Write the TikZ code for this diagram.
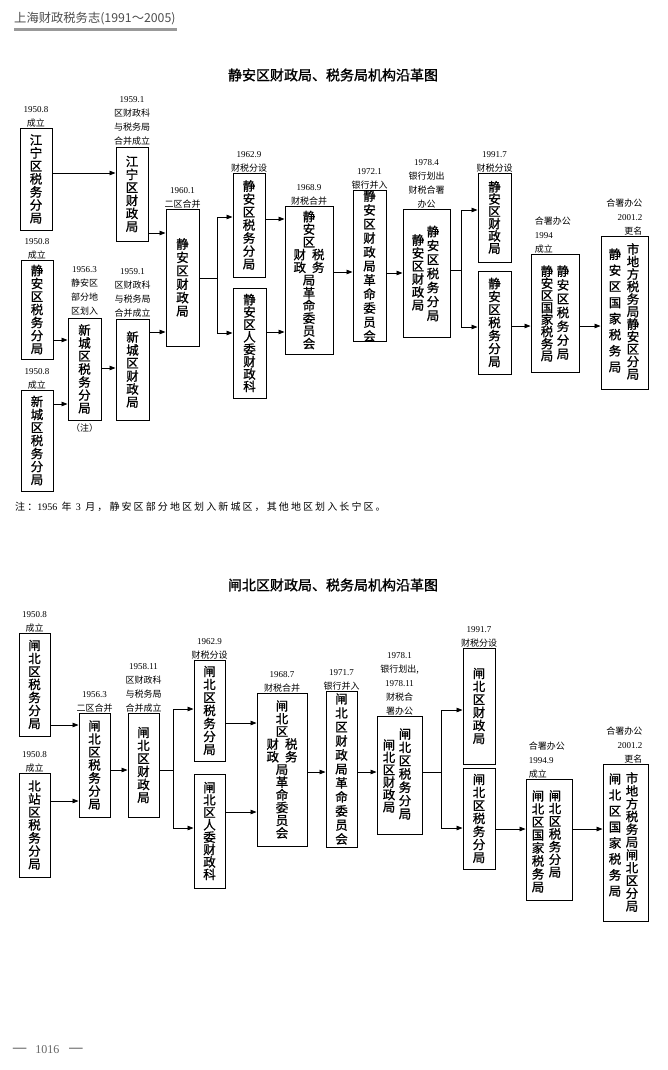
\documentclass[tikz,border=0pt]{standalone}
\usepackage{fontspec}
\setmainfont{Noto Sans CJK SC}
\newfontfamily\numfont{Liberation Serif}
\newfontfamily\boxfont[FakeBold=0.9]{Noto Sans CJK SC}
\newfontfamily\ttlfont[FakeBold=1.3]{Noto Sans CJK SC}
\newfontfamily\notefont[LetterSpace=21]{Noto Sans CJK SC}
\usetikzlibrary{arrows.meta,positioning}
\newcommand{\yr}[1]{{\numfont #1}}
\def\vtend{}
\def\vtx#1{\ifx\vtend#1\else\hbox to 14pt{\hss#1\hss}\expandafter\vtx\fi}
\newcommand{\vt}[2][13pt]{\vbox{\baselineskip=#1\lineskiplimit=-50pt\lineskip=0pt\vtx#2\vtend}}

\begin{document}
\begin{tikzpicture}[x=1pt,y=-1pt,
unit/.style={draw,line width=0.9pt,inner sep=0pt,font=\boxfont\fontsize{12.5}{13}\selectfont},
txt/.style={inner sep=0pt,font=\boxfont\fontsize{12.5}{13}\selectfont},
lbl/.style={inner sep=0pt,align=center,font=\fontsize{9}{14}\selectfont},
ttl/.style={font=\ttlfont\fontsize{14}{16}\selectfont},
line/.style={line width=0.8pt},
arr/.style={line width=0.8pt,-{Triangle[length=6pt,width=4.5pt]}}]
\useasboundingbox (0,0) rectangle (668,1070);
% header and footer
\node[anchor=west,inner sep=0pt,text=black!70,font=\fontsize{12.3}{13}\selectfont] (hd) at (14,19) {上海财政税务志(1991～2005)};
\draw[black!40,line width=3pt] (14,29.5) -- (177,29.5);
\node[anchor=west,inner sep=0pt,text=black!60,font=\fontsize{12}{13}\selectfont] (pg) at (12,1050) {{\fontsize{17}{17}\selectfont —}\hspace{8pt}\yr{1016}\hspace{9pt}{\fontsize{17}{17}\selectfont —}};

%%% Jing'an
\node[ttl] (ttl1) at (333,75) {静安区财政局、税务局机构沿革图};
\node[unit,minimum width=32,minimum height=102] (t1) at (36,179) {\vt{江宁区税务分局}};
\node[lbl,above=0pt of t1] (l1) {\yr{1950.8}\\成立};
\node[unit,minimum width=32,minimum height=99] (t2) at (37,309.5) {\vt{静安区税务分局}};
\node[lbl,above=0pt of t2] (l2) {\yr{1950.8}\\成立};
\node[unit,minimum width=32,minimum height=101] (t3) at (37,440.5) {\vt{新城区税务分局}};
\node[lbl,above=0pt of t3] (l3) {\yr{1950.8}\\成立};
\node[unit,minimum width=33,minimum height=102] (t4) at (84.5,369) {\vt{新城区税务分局}};
\node[lbl,above=2pt of t4] (l4) {\yr{1956.3}\\静安区\\部分地\\区划入};
\node[lbl,below=3pt of t4] (n4) {（注）};
\node[unit,minimum width=32,minimum height=94] (t5) at (132,194) {\vt{江宁区财政局}};
\node[lbl,above=1pt of t5] (l5) {\yr{1959.1}\\区财政科\\与税务局\\合并成立};
\node[unit,minimum width=33,minimum height=101] (t6) at (132.5,369.5) {\vt{新城区财政局}};
\node[lbl,above=1pt of t6] (l6) {\yr{1959.1}\\区财政科\\与税务局\\合并成立};
\node[unit,minimum width=33,minimum height=137] (t7) at (182.5,277.5) {\vt[13.4pt]{静安区财政局}};
\node[lbl,above=0pt of t7] (l7) {\yr{1960.1}\\二区合并};
\node[unit,minimum width=32,minimum height=104] (t8) at (249,225) {\vt{静安区税务分局}};
\node[lbl,above=0pt of t8] (l8) {\yr{1962.9}\\财税分设};
\node[unit,minimum width=33,minimum height=110] (t9) at (249.5,343) {\vt[12.4pt]{静安区人委财政科}};
\node[unit,minimum width=48,minimum height=148] (t10) at (309,280) {\vt[12.7pt]{静安区{财\hspace{6pt}税}{政\hspace{6pt}务}局革命委员会}};
\node[lbl,above=0pt of t10] (l10) {\yr{1968.9}\\财税合并};
\node[unit,minimum width=33,minimum height=150] (t11) at (369.5,266) {\vt[14pt]{静安区财政局革命委员会}};
\node[lbl,above=0pt of t11] (l11) {\yr{1972.1}\\银行并入};
\node[unit,minimum width=47,minimum height=128] (t12) at (426.5,273) {};
\node[txt] (t12r) at (433,273.5) {\vt[14pt]{静安区税务分局}};
\node[txt] (t12l) at (418,272.5) {\vt[13pt]{静安区财政局}};
\node[lbl,above=0pt of t12] (l12) {\yr{1978.4}\\银行划出\\财税合署\\办公};
\node[unit,minimum width=33,minimum height=89] (t13) at (494.5,217.5) {\vt[12.3pt]{静安区财政局}};
\node[lbl,above=0pt of t13] (l13) {\yr{1991.7}\\财税分设};
\node[unit,minimum width=33,minimum height=103] (t14) at (494.5,322.5) {\vt{静安区税务分局}};
\node[unit,minimum width=48,minimum height=118] (t15) at (555,313) {};
\node[txt] (t15r) at (563,312.5) {\vt[13.8pt]{静安区税务分局}};
\node[txt] (t15l) at (547,313.5) {\vt[12.1pt]{静安区国家税务局}};
\node[lbl,align=left,anchor=south west,xshift=4pt] (l15) at (t15.north west) {合署办公\\\yr{1994}\\成立};
\node[unit,minimum width=47,minimum height=153] (t16) at (624.5,312.5) {};
\node[txt] (t16r) at (633,311.5) {\vt[12.5pt]{市地方税务局静安区分局}};
\node[txt] (t16l) at (615,310.5) {\vt[16.1pt]{静安区国家税务局}};
\node[lbl,align=right,anchor=south east,xshift=-6pt] (l16) at (t16.north east) {合署办公\\\yr{2001.2}\\更名};
\node[anchor=west,inner sep=0pt,font=\notefont\fontsize{10}{12}\selectfont] (note) at (15,507) {注：\yr{1956} 年 \yr{3} 月，静安区部分地区划入新城区，其他地区划入长宁区。};

\path[arr]
(t1.east |- 0,173) edge (t5.west |- 0,173)
(t5.east |- 0,233) edge (t7.west |- 0,233)
(t6.east |- 0,332) edge (t7.west |- 0,332)
(t2.east |- 0,340) edge (t4.west |- 0,340)
(t3.east |- 0,404) edge (t4.west |- 0,404)
(t4.east |- 0,368) edge (t6.west |- 0,368)
(t8.east |- 0,219) edge (t10.west |- 0,219)
(t9.east |- 0,332) edge (t10.west |- 0,332)
(t10.east |- 0,272) edge (t11.west |- 0,272)
(t11.east |- 0,273) edge (t12.west |- 0,273)
(t14.east |- 0,326) edge (t15.west |- 0,326)
(t15.east |- 0,326) edge (t16.west |- 0,326);
\coordinate (j7) at (217,278);
\draw[line] (t7.east |- j7) -- (j7);
\draw[arr] (j7) |- (t8.west |- 0,217);
\draw[arr] (j7) |- (t9.west |- 0,333);
\coordinate (j12) at (461,270);
\draw[line] (t12.east |- j12) -- (j12);
\draw[arr] (j12) |- (t13.west |- 0,210);
\draw[arr] (j12) |- (t14.west |- 0,327);

%%% Zhabei
\node[ttl] (ttl2) at (333,585) {闸北区财政局、税务局机构沿革图};
\node[unit,minimum width=31,minimum height=103] (b1) at (34.5,684.5) {\vt{闸北区税务分局}};
\node[lbl,above=0pt of b1] (m1) {\yr{1950.8}\\成立};
\node[unit,minimum width=31,minimum height=104] (b2) at (34.5,825) {\vt{北站区税务分局}};
\node[lbl,above=0pt of b2] (m2) {\yr{1950.8}\\成立};
\node[unit,minimum width=31,minimum height=104] (b3) at (94.5,765) {\vt{闸北区税务分局}};
\node[lbl,above=0pt of b3] (m3) {\yr{1956.3}\\二区合并};
\node[unit,minimum width=31,minimum height=104] (b4) at (143.5,765) {\vt{闸北区财政局}};
\node[lbl,above=0pt of b4] (m4) {\yr{1958.11}\\区财政科\\与税务局\\合并成立};
\node[unit,minimum width=31,minimum height=101] (b5) at (209.5,710.5) {\vt{闸北区税务分局}};
\node[lbl,above=0pt of b5] (m5) {\yr{1962.9}\\财税分设};
\node[unit,minimum width=31,minimum height=114] (b6) at (209.5,831) {\vt[12.4pt]{闸北区人委财政科}};
\node[unit,minimum width=50,minimum height=153] (b7) at (282,769.5) {\vt[12.7pt]{闸北区{财\hspace{6pt}税}{政\hspace{6pt}务}局革命委员会}};
\node[lbl,above=0pt of b7] (m7) {\yr{1968.7}\\财税合并};
\node[unit,minimum width=31,minimum height=156] (b8) at (341.5,769) {\vt[14pt]{闸北区财政局革命委员会}};
\node[lbl,above=0pt of b8] (m8) {\yr{1971.7}\\银行并入};
\node[unit,minimum width=45,minimum height=118] (b9) at (399.5,775) {};
\node[txt] (b9r) at (405,774) {\vt[13.3pt]{闸北区税务分局}};
\node[txt] (b9l) at (389,776) {\vt[12.4pt]{闸北区财政局}};
\node[lbl,above=0pt of b9] (m9) {\yr{1978.1}\\银行划出,\\\yr{1978.11}\\财税合\\署办公};
\node[unit,minimum width=32,minimum height=116] (b10) at (479,706) {\vt{闸北区财政局}};
\node[lbl,above=0pt of b10] (m10) {\yr{1991.7}\\财税分设};
\node[unit,minimum width=32,minimum height=101] (b11) at (479,818.5) {\vt{闸北区税务分局}};
\node[unit,minimum width=46,minimum height=121] (b12) at (549,839.5) {};
\node[txt] (b12r) at (555,834) {\vt[12.7pt]{闸北区税务分局}};
\node[txt] (b12l) at (538,841.5) {\vt[13pt]{闸北区国家税务局}};
\node[lbl,align=left,anchor=south west,xshift=3pt] (m12) at (b12.north west) {合署办公\\\yr{1994.9}\\成立};
\node[unit,minimum width=45,minimum height=157] (b13) at (625.5,842.5) {};
\node[txt] (b13r) at (632,842) {\vt[12.8pt]{市地方税务局闸北区分局}};
\node[txt] (b13l) at (615,835) {\vt[16pt]{闸北区国家税务局}};
\node[lbl,align=right,anchor=south east,xshift=-6pt] (m13) at (b13.north east) {合署办公\\\yr{2001.2}\\更名};

\path[arr]
(b1.east |- 0,725) edge (b3.west |- 0,725)
(b2.east |- 0,801) edge (b3.west |- 0,801)
(b3.east |- 0,770) edge (b4.west |- 0,770)
(b5.east |- 0,723) edge (b7.west |- 0,723)
(b6.east |- 0,812) edge (b7.west |- 0,812)
(b7.east |- 0,772) edge (b8.west |- 0,772)
(b8.east |- 0,772) edge (b9.west |- 0,772)
(b11.east |- 0,829) edge (b12.west |- 0,829)
(b12.east |- 0,829) edge (b13.west |- 0,829);
\coordinate (j4) at (173,770);
\draw[line] (b4.east |- j4) -- (j4);
\draw[arr] (j4) |- (b5.west |- 0,709);
\draw[arr] (j4) |- (b6.west |- 0,828);
\coordinate (j9) at (441.5,772);
\draw[line] (b9.east |- j9) -- (j9);
\draw[arr] (j9) |- (b10.west |- 0,710);
\draw[arr] (j9) |- (b11.west |- 0,828);
\end{tikzpicture}
\end{document}
